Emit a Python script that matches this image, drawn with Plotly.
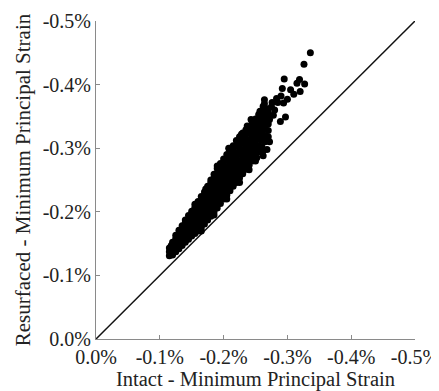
import plotly.graph_objects as go

# Dense band: intact strain (%) per column and resurfaced strain (%) values read for each column
band_intact = [-0.115, -0.118, -0.120, -0.125, -0.130, -0.135, -0.140, -0.145, -0.150, -0.155,
               -0.160, -0.165, -0.170, -0.175, -0.180, -0.185, -0.190, -0.195, -0.200, -0.205,
               -0.210, -0.215, -0.220, -0.225, -0.230, -0.235, -0.240, -0.245, -0.250, -0.255,
               -0.260, -0.265, -0.270]
band_resurfaced = [
    [-0.131, -0.137, -0.143],
    [-0.133, -0.140, -0.147, -0.134],
    [-0.132, -0.138, -0.145, -0.152],
    [-0.137, -0.144, -0.151, -0.158, -0.163],
    [-0.142, -0.149, -0.156, -0.164, -0.171],
    [-0.147, -0.154, -0.162, -0.170, -0.178],
    [-0.152, -0.159, -0.167, -0.175, -0.183, -0.187],
    [-0.157, -0.164, -0.172, -0.180, -0.188, -0.194],
    [-0.162, -0.169, -0.177, -0.185, -0.193, -0.201],
    [-0.166, -0.174, -0.182, -0.190, -0.198, -0.207],
    [-0.170, -0.178, -0.186, -0.194, -0.203, -0.211, -0.216],
    [-0.175, -0.183, -0.191, -0.200, -0.208, -0.216, -0.224],
    [-0.181, -0.189, -0.197, -0.206, -0.214, -0.223, -0.231],
    [-0.187, -0.195, -0.204, -0.212, -0.221, -0.230, -0.240],
    [-0.193, -0.201, -0.210, -0.219, -0.228, -0.237, -0.246, -0.250],
    [-0.200, -0.208, -0.217, -0.226, -0.235, -0.244, -0.253, -0.259],
    [-0.206, -0.215, -0.224, -0.233, -0.242, -0.251, -0.260, -0.268],
    [-0.213, -0.222, -0.231, -0.240, -0.249, -0.258, -0.267, -0.276],
    [-0.220, -0.229, -0.238, -0.247, -0.256, -0.265, -0.274, -0.283],
    [-0.226, -0.235, -0.244, -0.253, -0.262, -0.271, -0.281, -0.290],
    [-0.233, -0.242, -0.251, -0.260, -0.269, -0.278, -0.288, -0.297],
    [-0.240, -0.249, -0.258, -0.267, -0.276, -0.285, -0.295, -0.304],
    [-0.246, -0.255, -0.264, -0.273, -0.283, -0.293, -0.303, -0.312],
    [-0.253, -0.262, -0.271, -0.280, -0.290, -0.300, -0.310, -0.318],
    [-0.260, -0.269, -0.278, -0.288, -0.298, -0.308, -0.317, -0.324],
    [-0.267, -0.276, -0.286, -0.296, -0.306, -0.315, -0.324, -0.329],
    [-0.273, -0.283, -0.293, -0.303, -0.313, -0.323, -0.333],
    [-0.280, -0.290, -0.300, -0.310, -0.320, -0.330, -0.340],
    [-0.287, -0.297, -0.307, -0.317, -0.327, -0.337, -0.346],
    [-0.294, -0.304, -0.314, -0.324, -0.334, -0.344, -0.353],
    [-0.302, -0.312, -0.322, -0.332, -0.342, -0.352, -0.359],
    [-0.310, -0.320, -0.330, -0.340, -0.350, -0.360],
    [-0.318, -0.328, -0.338, -0.348, -0.356],
]

# Sparse points at the upper end of the cloud and ragged points along its edges
sparse_intact = [-0.336, -0.326, -0.319, -0.327, -0.295, -0.315, -0.292, -0.320, -0.310, -0.300,
                 -0.264, -0.264, -0.294, -0.297, -0.289, -0.266, -0.237, -0.275, -0.280, -0.285,
                 -0.278, -0.305, -0.272, -0.283, -0.290, -0.276, -0.268, -0.262, -0.268, -0.252,
                 -0.155, -0.172, -0.190, -0.208, -0.228, -0.243, -0.257, -0.262,
                 -0.165, -0.185, -0.205, -0.225, -0.240, -0.250, -0.262, -0.272]
sparse_resurfaced = [-0.450, -0.432, -0.408, -0.401, -0.409, -0.402, -0.394, -0.389, -0.385, -0.377,
                     -0.376, -0.370, -0.371, -0.349, -0.342, -0.313, -0.335, -0.365, -0.360, -0.372,
                     -0.352, -0.392, -0.345, -0.378, -0.382, -0.372, -0.362, -0.288, -0.298, -0.285,
                     -0.212, -0.236, -0.272, -0.300, -0.322, -0.345, -0.358, -0.366,
                     -0.170, -0.195, -0.220, -0.246, -0.266, -0.280, -0.296, -0.310]

tick_vals = [0.0, -0.1, -0.2, -0.3, -0.4, -0.5]
tick_text = ["0.0%", "-0.1%", "-0.2%", "-0.3%", "-0.4%", "-0.5%"]

xs, ys = [], []
for x, col in zip(band_intact, band_resurfaced):
    for y in col:
        xs.append(x)
        ys.append(y)
xs += sparse_intact
ys += sparse_resurfaced

font_family = "Liberation Serif, Times New Roman, serif"

fig = go.Figure()
fig.add_trace(go.Scatter(x=[0.0, -0.5], y=[0.0, -0.5], mode="lines",
                         line=dict(color="#111111", width=1.5), hoverinfo="skip"))
fig.add_trace(go.Scatter(x=xs, y=ys, mode="markers",
                         marker=dict(color="#000000", size=7, line=dict(width=0))))

axis_common = dict(
    range=[0.0, -0.5], tickvals=tick_vals, ticktext=tick_text,
    showgrid=False, zeroline=False, showline=True, linecolor="#8a8a8a", linewidth=1,
    ticks="inside", ticklen=4, tickcolor="#8a8a8a", automargin=False,
    ticklabeloverflow="allow",
    tickfont=dict(family=font_family, size=20, color="#222222"),
)

# the page adds an 8px body margin, so the figure is sized to fit the 439x391 window
fig.update_layout(
    width=431, height=383,
    margin=dict(l=88, r=24, t=13, b=52),
    paper_bgcolor="white", plot_bgcolor="white",
    showlegend=False,
    xaxis=dict(**axis_common,
               title=dict(text="Intact - Minimum Principal Strain", standoff=0,
                          font=dict(family=font_family, size=20.5, color="#222222"))),
    yaxis=dict(**axis_common,
               title=dict(text="Resurfaced - Minimum Principal Strain", standoff=6,
                          font=dict(family=font_family, size=21, color="#222222"))),
)

fig.write_html("out.html")
